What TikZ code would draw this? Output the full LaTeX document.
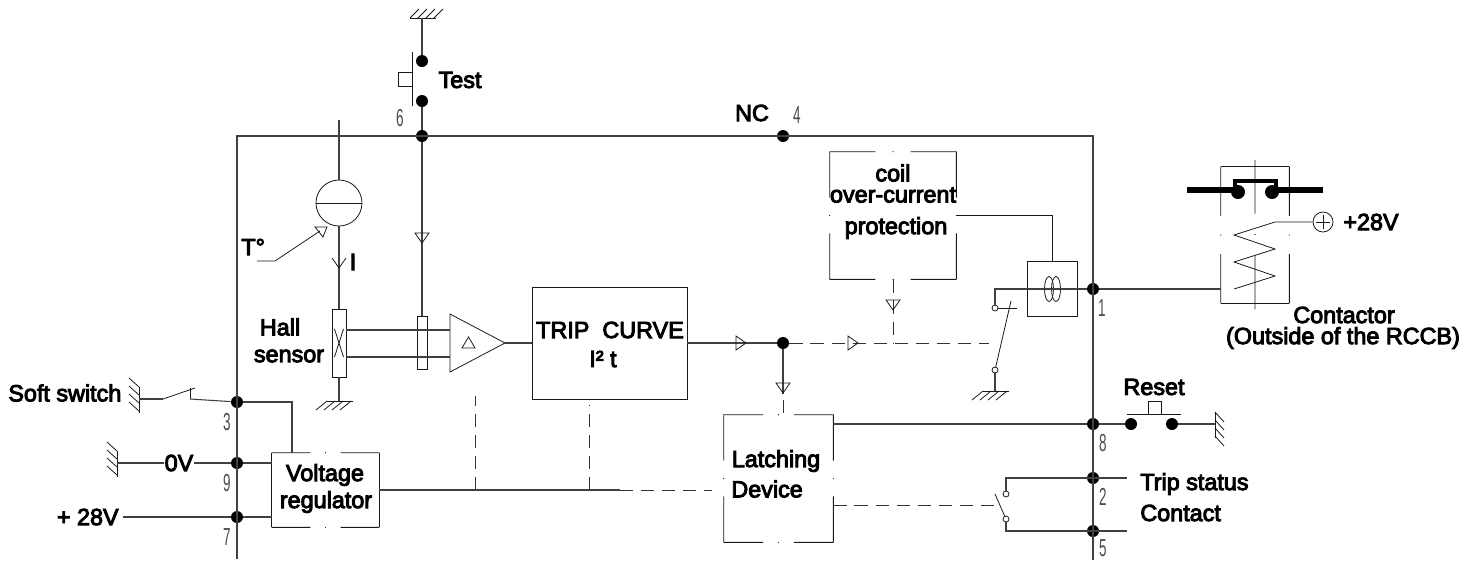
\documentclass[tikz,border=0pt]{standalone}
\usepackage{fontspec}
\setmainfont{Liberation Sans}[FakeBold=4]
\newfontfamily\numfont[FakeStretch=0.55]{Liberation Sans}
\usetikzlibrary{calc}
\tikzset{
	wire/.style={line width=0.6pt, color=black!75},
	fine/.style={line width=0.45pt, color=black!90},
	phantom/.style={line width=0.5pt, color=black!80, dash pattern=on 7.5pt off 4.5pt},
	thick wire/.style={line width=3.2pt, color=black},
	box/.style={draw, fine, rectangle, inner sep=0pt},
	dot/.style={circle, fill=black, inner sep=0pt, minimum size=2.4mm},
	pin/.style={circle, draw, fine, fill=white, inner sep=0pt, minimum size=1.2mm},
	label/.style={inner sep=0pt, align=center, font=\fontsize{13.3}{15.5}\selectfont, text=black},
	num/.style={inner sep=0pt, font=\numfont\fontsize{14}{14}\selectfont, text=black!70},
}
\def\gnd(#1)(#2,#3)(#4,#5){%
	\draw[fine] (#1) ++({-12*#2},{-12*#3}) -- ++({26*#2},{26*#3});
	\foreach \k in {0,1,2,3} \draw[fine] (#1) ++({(-12+8*\k)*#2},{(-12+8*\k)*#3}) -- ++(#4,#5);
}
\def\tridown(#1){\draw[fine] (#1) ++(-7,-5) -- ++(14,0) -- ++(-7,10) -- cycle;}
\def\triright(#1){\draw[fine] (#1) ++(-5,-7) -- ++(0,14) -- ++(10,-7) -- cycle;}
\newcommand{\gapside}[2]{%
	\draw[fine] (#1) -- ($(#1)!0.36!(#2)$);
	\draw[fine] (#2) -- ($(#1)!0.64!(#2)$);
	\fill ($(#1)!0.5!(#2)$) circle (0.6);
}
\newcommand{\gapbox}[1]{%
	\gapside{#1.north west}{#1.north east}
	\gapside{#1.north east}{#1.south east}
	\gapside{#1.south west}{#1.south east}
	\gapside{#1.north west}{#1.south west}
}

\begin{document}
\begin{tikzpicture}[x=0.2mm, y=-0.2mm]
	\useasboundingbox (0,0) rectangle (1472,560);
	%%%%% MAIN FRAME %%%%%
	\node[dot] (test6) at (422,136) {};
	\node[dot] (nc) at (783,136) {};
	\node[dot] (pin3) at (237,402) {};
	\node[dot] (pin9) at (237,463) {};
	\node[dot] (pin7) at (237,517) {};
	\node[dot] (pin1) at (1093,289) {};
	\node[dot] (pin8) at (1093,424) {};
	\node[dot] (pin2) at (1093,478) {};
	\node[dot] (pin5) at (1093,531) {};
	\coordinate (endl) at (237,559);
	\coordinate (endr) at (1093,560);
	\draw[wire] (endl) -- (237,136) -- (1093,136) -- (endr);
	
	\node[label] (nclabel) at (752,113) {NC};
	\node[num] (num4) at (797,115) {4};
	\node[num] (num6) at (400,118) {6};
	\node[num] (num3) at (227,422) {3};
	\node[num] (num9) at (227,483) {9};
	\node[num] (num7) at (227,537) {7};
	\node[num] (num1) at (1102,308) {1};
	\node[num] (num8) at (1103,443) {8};
	\node[num] (num2) at (1103,497) {2};
	\node[num] (num5) at (1103,548) {5};
	
	%%%%% TEST BUTTON %%%%%
	\coordinate (testgnd) at (422,18);
	\gnd(testgnd)(1,0)(9,-9)
	\node[dot] (testa) at (422,61) {};
	\node[dot] (testb) at (422,101) {};
	\draw[wire] (testgnd) -- (testa);
	\draw[wire] (testb) -- (test6);
	\coordinate (bartop) at (412,52);
	\coordinate (barbot) at (412,106);
	\draw[fine] (bartop) -- (barbot);
	\node[box, minimum width=2.8mm, minimum height=2.8mm] (testbtn) at (405,79) {};
	\node[label] (testlabel) at (460,80) {Test};
	
	%%%%% SENSOR %%%%%
	\coordinate (srctop) at (339,120);
	\node[circle, draw, fine, inner sep=0pt, minimum size=9.2mm] (src) at (339,203) {};
	\draw[fine] (src.west) -- (src.east);
	\node[box, minimum width=2.8mm, minimum height=13.6mm] (hall) at (339,343) {};
	\coordinate (hallgnd) at (339,401);
	\gnd(hallgnd)(1,0)(-11,9)
	\draw[wire] (srctop) -- (src) -- (hall);
	\draw[wire] (hall) -- (hallgnd);
	\draw[fine] (332,258) -- (339,268) -- (346,258);
	\node[label] (ilabel) at (353,262) {I};
	\draw[fine] (334.5,329) -- (343.5,357);
	\draw[fine] (343.5,329) -- (334.5,357);
	\node[label] (halla) at (280,327) {Hall};
	\node[label] (hallb) at (289,356) {sensor};
	\node[label, anchor=west] (temp) at (241,247) {T°};
	\coordinate (tempa) at (257,261);
	\coordinate (tempb) at (275,261);
	\coordinate (tempc) at (320,231);
	\draw[fine] (tempa) -- (tempb) -- (tempc);
	\draw[fine] (315,227) -- (327,227) -- (323,237) -- cycle;
	
	%%%%% AMPLIFIER %%%%%
	\node[box, minimum width=2mm, minimum height=10.6mm] (shunt) at (422,342.5) {};
	\draw[wire] (test6) -- (shunt);
	\tridown(422,238)
	\coordinate (ampa) at (450,314);
	\coordinate (ampb) at (450,372);
	\coordinate (ampc) at (505,343);
	\draw[fine] (ampa) -- (ampb) -- (ampc) -- cycle;
	\draw[fine] (468.5,337) -- (475,348) -- (462,348) -- cycle;
	\draw[wire] (hall.east |- 0,330) -- (ampa |- 0,330);
	\draw[wire] (hall.east |- 0,357) -- (ampa |- 0,357);
	
	%%%%% TRIP CURVE %%%%%
	\node[box, minimum width=31mm, minimum height=22.4mm] (trip) at (609.5,343) {};
	\node[label] (triplabel) at (610,330) {TRIP\ \ CURVE};
	\node[label] (ipt) at (603,359) {I² t};
	\draw[wire] (ampc) -- (trip.west |- ampc);
	\node[dot] (split) at (783,343) {};
	\draw[wire] (trip.east |- split) -- (split);
	\triright(741,343)
	\coordinate (dashend) at (989,343);
	\draw[phantom] (split) -- (dashend);
	\triright(853,343)
	
	%%%%% COIL PROTECTION %%%%%
	\node[minimum width=25.2mm, minimum height=25.4mm, inner sep=0pt] (prot) at (893,215.5) {};
	\gapbox{prot}
	\node[label] (prota) at (893,173) {coil};
	\node[label] (protb) at (893,195) {over-current};
	\node[label] (protc) at (896,228) {protection};
	\coordinate (protdrop) at (893,343);
	\draw[phantom] (prot.south) -- (protdrop);
	\tridown(893,305)
	
	\node[box, minimum width=10mm, minimum height=11mm] (sense) at (1052,288.5) {};
	\draw[fine] (1049,289) ellipse (4.5 and 12.5);
	\draw[fine] (1056,289) ellipse (4.5 and 12.5);
	\coordinate (sensebend) at (1052,215);
	\draw[fine] (prot.east |- sensebend) -- (sensebend) -- (sense.north);
	
	%%%%% TRIP SWITCH %%%%%
	\node[pin] (swa) at (995,308) {};
	\node[pin] (swb) at (995,370) {};
	\coordinate (swc) at (995,289);
	\coordinate (swgnd) at (995,391);
	\gnd(swgnd)(1,0)(-11,9)
	\coordinate (swd) at (1017,308);
	\coordinate (swe) at (1011,301);
	\draw[wire] (pin1) -- (swc) -- (swa);
	\draw[fine] (swa) -- (swd);
	\draw[fine] (swb) -- (swe);
	\draw[wire] (swb) -- (swgnd);
	
	%%%%% LATCHING DEVICE %%%%%
	\node[minimum width=21.8mm, minimum height=25.4mm, inner sep=0pt] (latch) at (778.5,478.5) {};
	\gapbox{latch}
	\node[label] (latcha) at (776,461) {Latching};
	\node[label, anchor=west] (latchb) at (731,489) {Device};
	\draw[wire] (split) -- (783,394);
	\tridown(783,388)
	\draw[phantom] (783,400) -- (783,415);
	\draw[wire] (latch.east |- pin8) -- (pin8);
	
	%%%%% RESET %%%%%
	\node[dot] (reseta) at (1131,424) {};
	\node[dot] (resetb) at (1172,424) {};
	\coordinate (resetgnd) at (1215,424);
	\gnd(resetgnd)(0,1)(9,10)
	\draw[wire] (pin8) -- (reseta);
	\draw[wire] (resetb) -- (resetgnd);
	\coordinate (rbara) at (1127,414);
	\coordinate (rbarb) at (1181,414);
	\draw[fine] (rbara) -- (rbarb);
	\node[box, minimum width=2.6mm, minimum height=2.6mm] (resetbtn) at (1154.5,407.5) {};
	\node[label] (resetlabel) at (1154,387) {Reset};
	
	%%%%% TRIP STATUS %%%%%
	\node[pin] (stata) at (1006,494) {};
	\node[pin] (statb) at (1006,519) {};
	\coordinate (statc) at (1006,478);
	\coordinate (statd) at (1006,531);
	\coordinate (state) at (1127,478);
	\coordinate (statf) at (1127,531);
	\draw[wire] (stata) -- (statc) -- (state);
	\draw[wire] (statb) -- (statd) -- (statf);
	\draw[fine] (995,494) -- (statb);
	\coordinate (statdash) at (997,505);
	\draw[phantom] (latch.east |- statdash) -- (statdash);
	\node[label, anchor=west] (statusa) at (1140,484) {Trip status};
	\node[label, anchor=west] (statusb) at (1140,513) {Contact};
	
	%%%%% CONTACTOR %%%%%
	\node[minimum width=13.6mm, minimum height=27.2mm, inner sep=0pt] (cont) at (1255,235) {};
	\draw[fine] (cont.north west) -- (cont.north east);
	\draw[fine] (cont.south west) -- (cont.south east);
	\gapside{cont.north west}{cont.south west}
	\gapside{cont.north east}{cont.south east}
	\coordinate (axisa) at (1255,160);
	\coordinate (axisb) at (1255,309);
	\gapside{axisa}{axisb}
	\draw[wire] (pin1) -- (cont.west |- pin1);
	\draw[thick wire] (1187,190) -- (1238,190);
	\draw[thick wire] (1272,190) -- (1323,190);
	\draw[line width=2.6pt] (1235,190) -- (1235,181) -- (1276,181) -- (1276,190);
	\node[dot, minimum size=2.8mm] (conta) at (1238,192) {};
	\node[dot, minimum size=2.8mm] (contb) at (1272,192) {};
	\node[circle, draw, fine, inner sep=0pt, minimum size=4mm] (plus) at (1323,222) {};
	\draw[fine] (1316,222) -- (1330,222) (1323,215) -- (1323,229);
	\draw[fine] (plus) -- (1275,222) -- (1234,235) -- (1275,249) -- (1234,262) -- (1275,276) -- (1234,289);
	\node[label, anchor=west] (plab) at (1343,222) {+28V};
	\node[label] (conlaba) at (1344,315) {Contactor};
	\node[label] (conlabb) at (1343,338) {(Outside of the RCCB)};
	
	%%%%% SUPPLY %%%%%
	\node[minimum width=21.4mm, minimum height=14.8mm, inner sep=0pt] (reg) at (325.5,490) {};
	\gapside{reg.north west}{reg.north east}
	\gapside{reg.south west}{reg.south east}
	\draw[fine] (reg.north west) -- (reg.south west);
	\draw[fine] (reg.north east) -- (reg.south east);
	\node[label] (rega) at (325,475) {Voltage};
	\node[label] (regb) at (326,502) {regulator};
	\coordinate (softgnd) at (139,399);
	\gnd(softgnd)(0,1)(-10,-9)
	\coordinate (softa) at (163,399);
	\coordinate (softb) at (195,388);
	\coordinate (softc) at (190,388);
	\coordinate (softd) at (190,399);
	\draw[wire] (softgnd) -- (softa);
	\draw[fine] (softa) -- (softb);
	\draw[fine] (softc) -- (softd);
	\draw[wire] (softd) -- (pin3);
	\node[label, anchor=west] (softlabel) at (8,393) {Soft switch};
	\coordinate (regbend) at (292,402);
	\draw[wire] (pin3) -- (regbend) -- (regbend |- reg.north);
	\coordinate (zerognd) at (117,463);
	\gnd(zerognd)(0,1)(-10,-9)
	\node[label] (zerolabel) at (179,463) {0V};
	\draw[wire] (zerognd) -- (zerolabel.west);
	\draw[wire] (zerolabel.east) -- (pin9);
	\draw[wire] (pin9) -- (reg.west |- pin9);
	\node[label, anchor=east] (pluslabel) at (119,517) {+ 28V};
	\draw[wire] (pluslabel.east) ++(4,0) -- (pin7);
	\draw[wire] (pin7) -- (reg.west |- pin7);
	
	\coordinate (busa) at (620,490);
	\coordinate (busb) at (712,490);
	\coordinate (busc) at (475,396);
	\coordinate (busd) at (589,405);
	\draw[wire] (reg.east) -- (busa);
	\draw[phantom] (busa) -- (busb);
	\draw[phantom] (busc |- busa) -- (busc);
	\draw[phantom] (busd |- busa) -- (busd);
	%%%%% END %%%%%
\end{tikzpicture}
\end{document}
